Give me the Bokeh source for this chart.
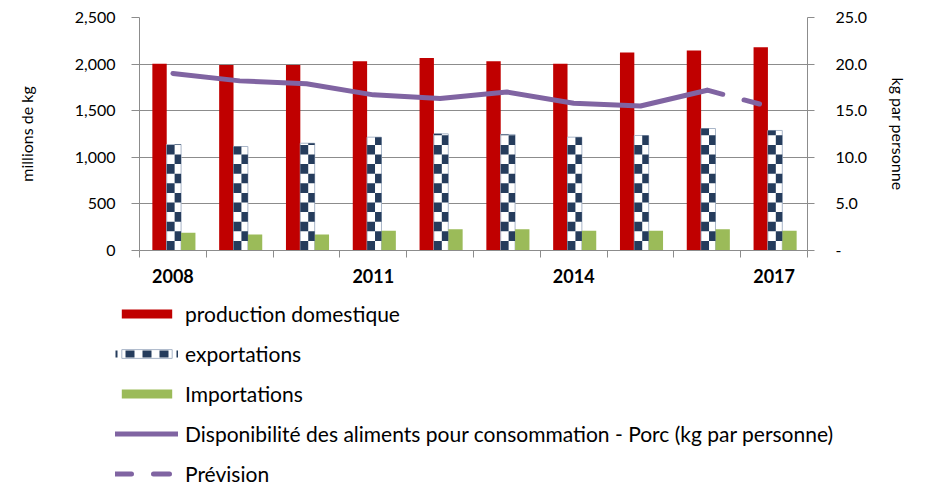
import math
import numpy as np
from bokeh.plotting import figure
from bokeh.layouts import column
from bokeh.models import (Range1d, LinearAxis, FixedTicker, NumeralTickFormatter,
                          Legend, LegendItem, ColumnDataSource)
from bokeh.embed import file_html
from bokeh.resources import INLINE

# ---------------- data ----------------
years = [2008, 2009, 2010, 2011, 2012, 2013, 2014, 2015, 2016, 2017]
production = [2005, 1990, 1990, 2030, 2065, 2030, 2005, 2125, 2145, 2180]
exportations = [1137, 1116, 1151, 1216, 1252, 1245, 1216, 1234, 1309, 1288]
importations = [190, 172, 172, 211, 229, 229, 211, 211, 229, 211]
disponibilite = [19.0, 18.2, 17.9, 16.7, 16.3, 17.0, 15.8, 15.5, 17.2]   # 2008-2016
prevision_years = [2016, 2017]
prevision = [17.2, 15.3]
year_labels = {2008: "2008", 2011: "2011", 2014: "2014", 2017: "2017"}
left_ticks = [0, 500, 1000, 1500, 2000, 2500]
right_ticks = [0, 5, 10, 15, 20, 25]
series_names = ["production domestique", "exportations", "Importations",
                "Disponibilité des aliments pour consommation - Porc (kg par personne)",
                "Prévision"]

# ---------------- styling ----------------
RED = "#C00000"
GREEN = "#9BBB59"
NAVY = "#253C5C"
PURPLE = "#8064A2"
GRAY = "#8C8C8C"
FONT = "Lato"
W = 911

idx = list(range(len(years)))
BW = 0.215
OFF_P, OFF_E, OFF_I = -0.2, 0.015, 0.23

p = figure(width=W, height=300, output_backend="svg", toolbar_location=None,
           x_range=Range1d(-0.5, 9.5), y_range=Range1d(0, 2500),
           min_border_left=139, min_border_right=W - 808, min_border_top=17,
           min_border_bottom=50)
p.outline_line_color = None
p.background_fill_color = "white"
p.border_fill_color = "white"
p.extra_y_ranges = {"kg": Range1d(0, 25)}

# grid
p.xgrid.visible = False
p.ygrid.ticker = FixedTicker(ticks=left_ticks)
p.ygrid.grid_line_color = GRAY
p.ygrid.grid_line_width = 1

# x axis
xa = p.xaxis[0]
xa.ticker = FixedTicker(ticks=[years.index(y) for y in year_labels],
                        minor_ticks=[i - 0.5 for i in range(len(years) + 1)])
xa.major_label_overrides = {years.index(y): t for y, t in year_labels.items()}
xa.major_tick_out = 0
xa.major_tick_in = 0
xa.minor_tick_out = 7
xa.minor_tick_in = 0
xa.minor_tick_line_color = GRAY
xa.axis_line_color = GRAY
xa.major_label_text_font = FONT
xa.major_label_text_font_size = "18px"
xa.major_label_text_font_style = "bold"
xa.major_label_text_color = "#000000"
xa.major_label_standoff = 11

# left axis
ya = p.yaxis[0]
ya.ticker = FixedTicker(ticks=left_ticks)
ya.formatter = NumeralTickFormatter(format="0,0")
ya.minor_tick_line_color = None
ya.major_tick_out = 8
ya.major_tick_in = 0
ya.major_tick_line_color = GRAY
ya.axis_line_color = GRAY
ya.major_label_text_font = FONT
ya.major_label_text_font_size = "16px"
ya.major_label_text_color = "#000000"
ya.major_label_standoff = 16
ya.axis_label = "millions de kg"
ya.axis_label_text_font = FONT
ya.axis_label_text_font_size = "16px"
ya.axis_label_text_font_style = "normal"
ya.axis_label_text_color = "#000000"
ya.axis_label_standoff = 36

# right axis
ra = LinearAxis(y_range_name="kg", ticker=FixedTicker(ticks=right_ticks),
                formatter=NumeralTickFormatter(format="0.0"))
ra.major_label_overrides = {0: "-"}
ra.minor_tick_line_color = None
ra.major_tick_out = 7
ra.major_tick_in = 0
ra.major_tick_line_color = GRAY
ra.axis_line_color = GRAY
ra.major_label_text_font = FONT
ra.major_label_text_font_size = "16px"
ra.major_label_text_color = "#000000"
ra.major_label_standoff = 21
ra.axis_label = "kg par personne"
ra.axis_label_text_font = FONT
ra.axis_label_text_font_size = "16px"
ra.axis_label_text_font_style = "normal"
ra.axis_label_text_color = "#000000"
ra.axis_label_standoff = 19
p.add_layout(ra, "right")

# bars
src = ColumnDataSource(dict(
    xp=[i + OFF_P for i in idx], xe=[i + OFF_E for i in idx], xi=[i + OFF_I for i in idx],
    prod=production, exp=exportations, imp=importations))
p.vbar(x="xp", top="prod", width=BW, source=src, fill_color=RED, line_color=None)
p.vbar(x="xe", top="exp", width=BW, source=src, fill_color="white",
       line_color="#A9B6C8", line_width=1)
p.vbar(x="xi", top="imp", width=BW, source=src, fill_color=GREEN, line_color=None)

# checker cells for exports (derived from export values)
CELL = 103
cl, cr, cb, ct = [], [], [], []
for i, v in zip(idx, exportations):
    xl = i + OFF_E - BW / 2
    xr = i + OFF_E + BW / 2
    xm = xl + 0.55 * BW
    for r in range(math.ceil(v / CELL)):
        b = r * CELL
        t = min(b + CELL, v)
        if r % 2 == 0:
            cl.append(xl); cr.append(xm)
        else:
            cl.append(xm); cr.append(xr)
        cb.append(b); ct.append(t)
p.quad(left=cl, right=cr, bottom=cb, top=ct, fill_color=NAVY, line_color=None)

# lines
dsrc = ColumnDataSource(dict(x=idx[:len(disponibilite)], y=disponibilite))
p.line(x="x", y="y", source=dsrc, y_range_name="kg", line_color=PURPLE,
       line_width=5, line_cap="round", line_join="round")
psrc = ColumnDataSource(dict(x=[years.index(y) for y in prevision_years], y=prevision))
p.line(x="x", y="y", source=psrc, y_range_name="kg", line_color=PURPLE,
       line_width=5, line_cap="round", line_dash="16 22")

# ---------------- legend figure ----------------
LH = 186
q = figure(width=W, height=LH, output_backend="svg", toolbar_location=None,
           x_range=Range1d(0, 1), y_range=Range1d(0, 1),
           x_axis_type=None, y_axis_type=None,
           min_border_left=0, min_border_right=0, min_border_top=0, min_border_bottom=0)
q.outline_line_color = None
q.grid.visible = False
q.border_fill_color = "white"
for fig in (p, q):
    try:
        fig.frame_align = False
    except Exception:
        pass

nan = np.array([np.nan])
l_prod = q.vbar(x=nan, top=nan, width=0.1, fill_color=RED, line_color=None)
l_exp_bg = q.vbar(x=nan, top=nan, width=0.1, fill_color="white", line_color="#A9B6C8", line_width=1)
l_exp_sq = q.line(x=nan, y=nan, line_color=NAVY, line_width=7, line_dash="9 8", line_dash_offset=7)
l_imp = q.vbar(x=nan, top=nan, width=0.1, fill_color=GREEN, line_color=None)
l_disp = q.line(x=nan, y=nan, line_color=PURPLE, line_width=5, line_cap="round")
l_prev = q.line(x=nan, y=nan, line_color=PURPLE, line_width=5, line_cap="round", line_dash="16 22")

legend = Legend(items=[
    LegendItem(label=series_names[0], renderers=[l_prod]),
    LegendItem(label=series_names[1], renderers=[l_exp_bg, l_exp_sq]),
    LegendItem(label=series_names[2], renderers=[l_imp]),
    LegendItem(label=series_names[3], renderers=[l_disp]),
    LegendItem(label=series_names[4], renderers=[l_prev]),
], location=(115, 0), orientation="vertical", padding=0, margin=0,
    spacing=14, label_height=26, glyph_height=11, glyph_width=63, label_standoff=7,
    border_line_alpha=0, background_fill_alpha=0,
    label_text_font=FONT, label_text_font_size="21px", label_text_color="#000000")
q.add_layout(legend)

layout = column(p, q, spacing=0)
open("out.html", "w").write(file_html(layout, INLINE))
